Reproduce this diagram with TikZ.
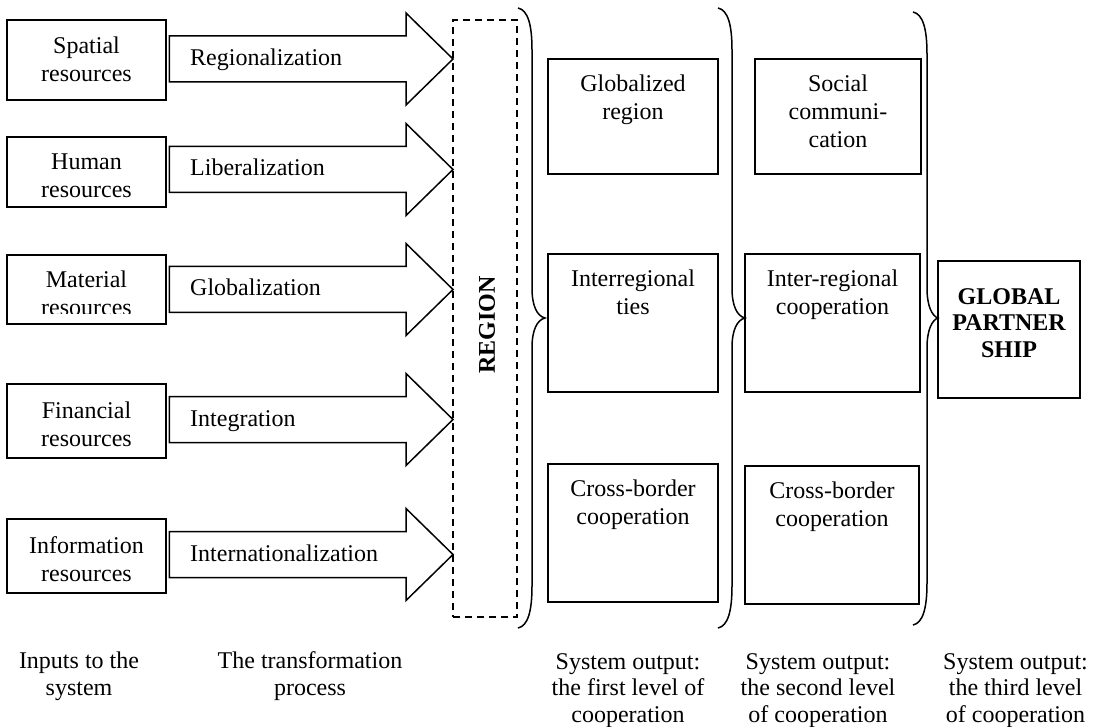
\documentclass[tikz,border=0pt]{standalone}
\usepackage{fontspec}
\setmainfont{Liberation Serif}
\usetikzlibrary{fit,calc}
\newcommand\blockarr[2]{%
  \draw[lw, line join=miter] ($(#1.east |- #2)+(2.5,-23)$) -- ($(#2)+(-47,-23)$) -- ($(#2)+(-47,-46)$) -- (#2)
    -- ($(#2)+(-47,46)$) -- ($(#2)+(-47,23)$) -- ($(#1.east |- #2)+(2.5,23)$) -- cycle;}
\newcommand\mybrace[6]{% xleft xvert xtip ytop ytip ybot
  \draw[lw] (#1,#4) .. controls ({#1+10},{#4+2}) and (#2,{#4+17}) .. (#2,{#4+42})
    -- (#2,{#5-30}) .. controls (#2,{#5-12}) and ({#2+5},{#5-2}) .. (#3,#5)
    .. controls ({#2+5},{#5+2}) and (#2,{#5+12}) .. (#2,{#5+30})
    -- (#2,{#6-42}) .. controls (#2,{#6-17}) and ({#1+10},{#6-2}) .. (#1,#6);}
\begin{document}
\begin{tikzpicture}[x=1pt,y=-1pt,
  lw/.style={line width=1.5pt},
  box/.style={draw, line width=1.5pt, inner sep=0pt},
  txt/.style={font=\fontsize{24}{27.6}\selectfont, align=center, inner sep=0pt},
  foot/.style={font=\fontsize{24}{26.8}\selectfont, align=center, inner sep=0pt, anchor=north}]
\useasboundingbox[fill=white] (0,0) rectangle (1098,727);

% input boxes
\node[box, fit={(7,20) (166,100)}] (in1) {};
\node[box, fit={(7,137) (166,207)}] (in2) {};
\node[box, fit={(7,255) (166,324)}] (in3) {};
\node[box, fit={(7,384) (166,458)}] (in4) {};
\node[box, fit={(7,519) (166,593)}] (in5) {};
\node[txt, anchor=north] (in1t) at (86.5,37) {Spatial\\resources};
\node[txt, anchor=north] (in2t) at (86.5,153.6) {Human\\resources};
\begin{scope}
  \clip (7,255) rectangle (166,313.5);
  \node[txt, anchor=north] (in3t) at (86.5,271) {Material\\resources};
\end{scope}
\node[txt, anchor=north] (in4t) at (86.5,401.6) {Financial\\resources};
\node[txt, anchor=north] (in5t) at (86.5,536.6) {Information\\resources};

% region
\node[draw, line width=1.3pt, dash pattern=on 7pt off 5pt, inner sep=0pt, fit={(453,20) (517,617)}] (region) {};
\node[font=\bfseries\fontsize{24}{27.6}\selectfont, rotate=90, inner sep=0pt] (regt) at (487,325) {REGION};

% arrows
\coordinate (t1) at (453,59);
\coordinate (t2) at (453,169.5);
\coordinate (t3) at (453,289.5);
\coordinate (t4) at (453,419.5);
\coordinate (t5) at (453,554.5);
\blockarr{in1}{t1}
\blockarr{in2}{t2}
\blockarr{in3}{t3}
\blockarr{in4}{t4}
\blockarr{in5}{t5}
\node[txt, anchor=base west] (l1) at ($(t1)+(-263,6.5)$) {Regionalization};
\node[txt, anchor=base west] (l2) at ($(t2)+(-263,6.5)$) {Liberalization};
\node[txt, anchor=base west] (l3) at ($(t3)+(-263,6.5)$) {Globalization};
\node[txt, anchor=base west] (l4) at ($(t4)+(-263,6.5)$) {Integration};
\node[txt, anchor=base west] (l5) at ($(t5)+(-263,6.5)$) {Internationalization};

% braces
\mybrace{518}{532}{545}{8}{318}{628}
\mybrace{718}{732}{745}{8}{318}{628}
\mybrace{913}{927}{938}{12}{318}{625}

% output boxes
\node[box, fit={(548,59) (718,174)}] (o1) {};
\node[box, fit={(548,254) (718,392)}] (o2) {};
\node[box, fit={(548,464) (718,602)}] (o3) {};
\node[box, fit={(755,59) (921,174)}] (p1) {};
\node[box, fit={(745,254) (920,392)}] (p2) {};
\node[box, fit={(745,466) (919,604)}] (p3) {};
\node[box, fit={(938,261) (1080,398)}] (gp) {};
\node[txt, anchor=north] (o1t) at ([yshift=-16.8pt]o1.north) {Globalized\\region};
\node[txt, anchor=north] (o2t) at ([yshift=-16.8pt]o2.north) {Interregional\\ties};
\node[txt, anchor=north] (o3t) at ([yshift=-16.8pt]o3.north) {Cross-border\\cooperation};
\node[txt, anchor=north] (p1t) at ([yshift=-16.8pt]p1.north) {Social\\communi-\\cation};
\node[txt, anchor=north] (p2t) at ([yshift=-16.8pt]p2.north) {Inter-regional\\cooperation};
\node[txt, anchor=north] (p3t) at ([yshift=-16.8pt]p3.north) {Cross-border\\cooperation};
\node[txt, font=\bfseries\fontsize{24}{26.8}\selectfont, anchor=north] (gpt) at (1009,288) {GLOBAL\\PARTNER\\SHIP};

% footer
\node[foot] (f1) at (79,651.6) {Inputs to the\\system};
\node[foot] (f2) at (310,651.6) {The transformation\\process};
\node[foot] (f3) at (628,653) {System output:\\the first level of\\cooperation};
\node[foot] (f4) at (818,653) {System output:\\the second level\\of cooperation};
\node[foot] (f5) at (1015.5,653) {System output:\\the third level\\of cooperation};
\end{tikzpicture}
\end{document}
